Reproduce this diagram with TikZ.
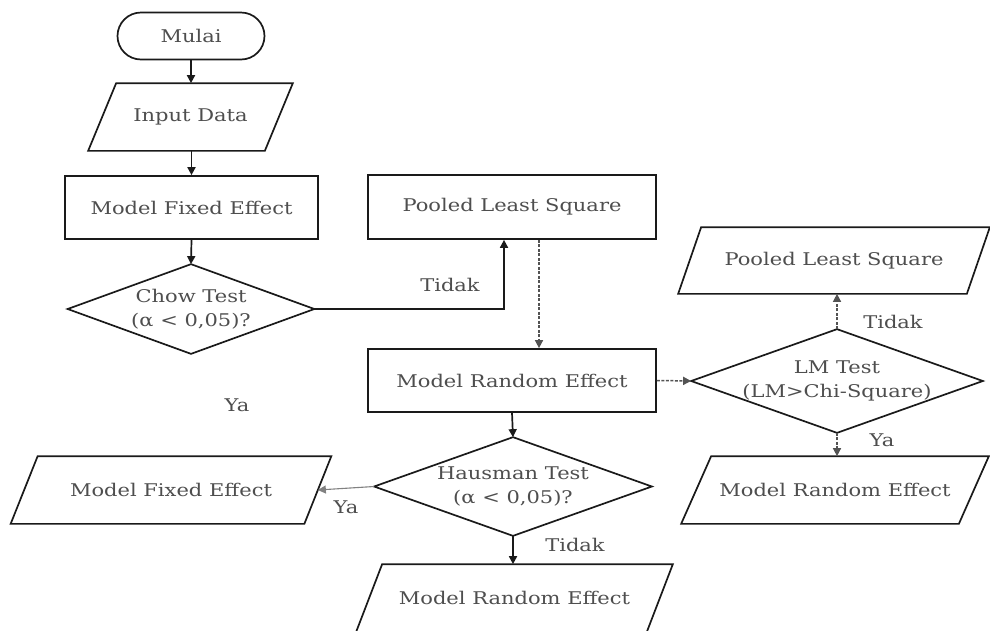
\documentclass[tikz,border=0pt]{standalone}
\usepackage{fontspec}
\setmainfont{DejaVu Serif}[FakeStretch=1.2]
\usetikzlibrary{shapes.geometric,shapes.misc,arrows.meta}
\definecolor{txt}{HTML}{4E4E4E}
\definecolor{ln}{HTML}{1A1A1A}
\tikzset{
  base/.style={text=txt, font=\fontsize{17.5}{24}\selectfont, align=center, inner sep=0pt, line width=1.7pt, draw=ln},
  proc/.style={base, rectangle},
  term/.style={base, rounded rectangle},
  dec/.style={base, draw=none, rectangle},
  io/.style={base, draw=none, rectangle},
  arr/.style={draw=ln, line width=1.7pt, -{Triangle[length=8pt,width=8pt]}},
  darr/.style={draw=ln!75, line width=1.5pt, dash pattern=on 3pt off 1.5pt, -{Triangle[length=8pt,width=8pt]}},
  garr/.style={draw=ln!55, line width=1.1pt, -{Triangle[length=8pt,width=8pt]}},
  lab/.style={text=txt, font=\fontsize{17.5}{20}\selectfont, inner sep=0pt},
}
\newcommand\drawpara[2]{\draw[ln, line width=1.7pt] ([xshift=#2]#1.north west) -- (#1.north east) -- ([xshift=-#2]#1.south east) -- (#1.south west) -- cycle;}
\newcommand\drawdia[1]{\draw[ln, line width=1.7pt] (#1.north) -- (#1.east) -- (#1.south) -- (#1.west) -- cycle;}
\begin{document}
\begin{tikzpicture}[x=1pt,y=-1pt]
\useasboundingbox (0,0) rectangle (990,630);
\clip (0,0) rectangle (990,630);
% nodes
\node[term, minimum width=147pt, minimum height=47pt] (mulai) at (191,36) {Mulai};
\node[io, minimum width=203pt, minimum height=66pt] (input) at (190.5,117) {Input Data};
\node[proc, minimum width=253pt, minimum height=63pt] (mfe) at (191.5,207.5) {Model Fixed Effect};
\node[dec, minimum width=245pt, minimum height=88pt] (chow) at (191,309) {Chow Test\\(α < 0,05)?};
\node[proc, minimum width=288pt, minimum height=64pt] (pls1) at (512,207) {Pooled Least Square};
\node[proc, minimum width=288pt, minimum height=63pt] (mre1) at (512,380.5) {Model Random Effect};
\node[dec, minimum width=276pt, minimum height=97pt] (haus) at (513,486.5) {Hausman Test\\(α < 0,05)?};
\node[io, minimum width=319pt, minimum height=66pt] (mfe2) at (171,490) {Model Fixed Effect};
\node[io, minimum width=315pt, minimum height=66pt] (mre3) at (514.5,598) {Model Random Effect};
\node[dec, minimum width=290pt, minimum height=102pt] (lm) at (837,381) {LM Test\\(LM>Chi-Square)};
\node[io, minimum width=310pt, minimum height=65pt] (pls2) at (834,260.5) {Pooled Least Square};
\node[io, minimum width=306pt, minimum height=66pt] (mre2) at (835,490) {Model Random Effect};
% outlines
\drawpara{input}{28pt}
\drawpara{mfe2}{27pt}
\drawpara{mre3}{26pt}
\drawpara{pls2}{23pt}
\drawpara{mre2}{30pt}
\drawdia{chow}
\drawdia{haus}
\drawdia{lm}
% connectors
\draw[arr] (mulai.south) -- (input.north -| mulai.south);
\draw[arr] (input.south -| mfe.north) -- (mfe.north);
\draw[arr] (mfe.south) -- (chow.north);
\draw[arr] (chow.east) -| ([xshift=-8pt]pls1.south);
\draw[darr] ([xshift=27pt]pls1.south) -- ([xshift=27pt]mre1.north);
\draw[arr] (mre1.south) -- (haus.north);
\draw[garr] (haus.west) -- ([xshift=-13.5pt]mfe2.east);
\draw[arr] (haus.south) -- (haus.south |- mre3.north);
\draw[darr] (mre1.east) -- (lm.west);
\draw[darr] (lm.north) -- (lm.north |- pls2.south);
\draw[darr] (lm.south) -- (lm.south |- mre2.north);
% labels
\node[lab] (l1) at (450,285) {Tidak};
\node[lab] (l2) at (237,405) {Ya};
\node[lab] (l3) at (346,507) {Ya};
\node[lab] (l4) at (575,545) {Tidak};
\node[lab] (l5) at (893,322) {Tidak};
\node[lab] (l6) at (882,440) {Ya};
\end{tikzpicture}
\end{document}
